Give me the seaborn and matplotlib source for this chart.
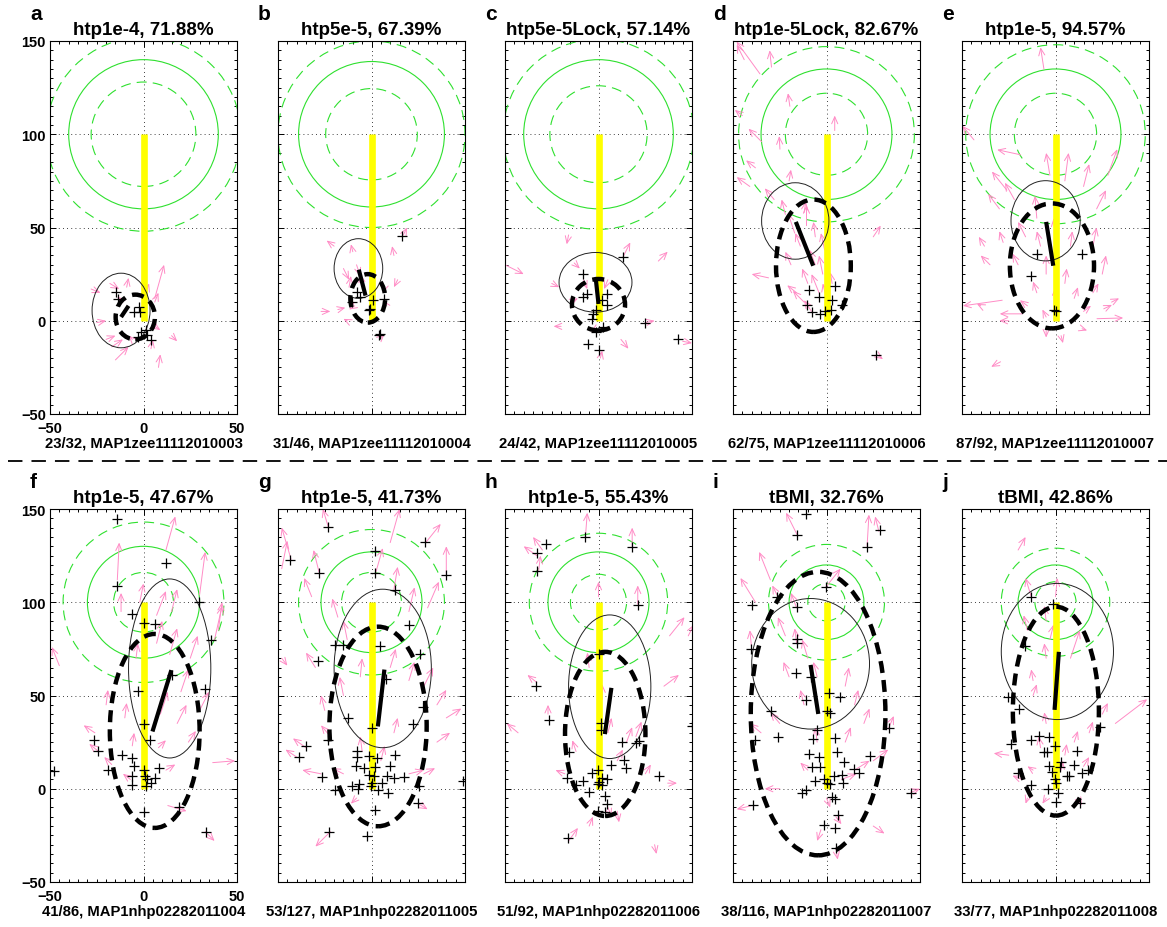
import numpy as np
import matplotlib
matplotlib.use("Agg")
import matplotlib.pyplot as plt
from matplotlib.patches import Circle, Ellipse, FancyArrowPatch
from matplotlib.lines import Line2D
import seaborn as sns

sns.set_theme(style="white")
plt.rcParams["font.family"] = ["Liberation Sans", "DejaVu Sans"]

# panel info
letters = ["a", "b", "c", "d", "e", "f", "g", "h", "i", "j"]
conds = ["htp1e-4", "htp5e-5", "htp5e-5Lock", "htp1e-5Lock", "htp1e-5",
         "htp1e-5", "htp1e-5", "htp1e-5", "tBMI", "tBMI"]
percents = [71.88, 67.39, 57.14, 82.67, 94.57, 47.67, 41.73, 55.43, 32.76, 42.86]
hits = [23, 31, 24, 62, 87, 41, 53, 51, 38, 33]
totals = [32, 46, 42, 75, 92, 86, 127, 92, 116, 77]
sessions = ["MAP1zee11112010003", "MAP1zee11112010004", "MAP1zee11112010005",
            "MAP1zee11112010006", "MAP1zee11112010007", "MAP1nhp02282011004",
            "MAP1nhp02282011005", "MAP1nhp02282011006", "MAP1nhp02282011007",
            "MAP1nhp02282011008"]

# target circles around (0,100)
r_solid = [40, 39, 40, 35, 35, 30, 27, 27, 20, 20]
r_inner = [28, 24.5, 26, 22, 22, 16, 16, 15, 10, 11]
r_outer = [52, 50, 51, 47, 48, 43, 39, 37, 31, 29]

# thin ellipse: center x, center y, width, height
thin_cx = [-12, -7, -1.6, -16.7, -5.3, 14, 6, 6, -8.5, 1]
thin_cy = [5.5, 28, 20.6, 53.5, 53.6, 64.5, 64.5, 54.7, 67, 73.6]
thin_w = [31, 26, 39, 36, 37, 44, 52, 44, 63, 60]
thin_h = [40, 32, 32, 41, 43, 96, 85, 77, 70, 73]

# thick dashed ellipse
dash_cx = [-4.4, -2, 0, -7, -1.9, 6, 3.5, 3.6, -4.5, 0.2]
dash_cy = [2, 12, 8.6, 29.5, 29.4, 31, 33.4, 29.4, 40.3, 41.6]
dash_w = [21, 18.6, 28.4, 40, 45, 48, 52, 43, 72, 46]
dash_h = [24, 26, 27.6, 71, 67, 104, 107, 88, 152, 112]

# mean trajectory line
line_x0 = [-12, -6.8, -1.4, -16.4, -5, 4.8, 3.4, 6.9, -8.5, -0.5]
line_y0 = [2, 27.4, 22, 53, 53, 30.7, 33.4, 54.1, 66.4, 42.3]
line_x1 = [-8, -3.2, 0, -7.1, -1.2, 14.9, 6.9, 3.4, -4.4, 1.8]
line_y1 = [8, 13.5, 9, 29.5, 29.5, 63.6, 63.9, 29.3, 40.1, 73.4]

# end points (+)
a_x = [-14.8, -13.9, -5, -2.3, -1.8, -1.4, 1.6, 3.9, -3.2, 2.1]
a_y = [15.3, 11.7, 4.6, 7.3, 4.6, -6, -5.2, -10.5, -8.7, -7.8]
b_x = [16.4, 4.8, 3.9, 0.9, -0.9, -6.2, -10.3, 6.9, -1.4, -7.7]
b_y = [45.3, -7, -7.5, 10.9, 6.4, 12.7, 10, 11.8, 5.5, 15.3]
c_x = [-8.2, 13.2, -6.4, -8.2, 4.3, 2.1, 4.3, -1.1, -2.8, -3.7, -1.1, 2.5, 24.7, 42.5, -5.5, 0.4]
c_y = [25, 34, 14.4, 12.6, 14.4, 10.9, 8.2, 5.5, 3.7, 1.1, -6, -3.4, -1.1, -9.6, -12.3, -15.8]
d_x = [4.8, -9.3, -3.9, 3.2, -10.3, -8, -3.6, -0.9, 2.3, 8.5, 26.7]
d_y = [18.9, 16.7, 13, 11.2, 8.5, 4.6, 3.7, 5, 5.5, 8.2, -18.1]
e_x = [-9.8, 14.2, -13.3, -0.9, 0.5]
e_y = [35.8, 35.8, 24.2, 5.5, 5]
f_x = [-48, -14.2, -14.2, 11.9, 29.7, -5.9, 0, 6, 36.2, 15.5, 32.7, -3.2, 0, 3.6, -26.6, -24.5,
       -11.7, -6.4, -5, -19.2, -5.9, -5.9, 0, 0.7, 2.1, 3.9, 6, 8.3, 1.2, 0, 19, 33.2]
f_y = [9.4, 144.4, 108.9, 121.3, 100, 93.8, 88.8, 88.1, 79.6, 61, 53.5, 52.6, 34.8, 26.3, 26.3, 20.1,
       18.3, 16.5, 12.1, 10.3, 6.7, 1.8, 10.3, 7.1, 5, 3.2, 5.9, 11.2, 1.4, -12.4, -9.6, -23.4]
g_x = [-23.1, -43.7, -28.1, 28.8, 2.1, 1.8, 39.8, 12.3, 19.9, -19.5, -15.1, 4.4, -28.6, 26.1, 8, 27.5,
       -12.4, 22.2, 0.4, -35.2, -38.7, -23.3, -8, -8, -1.4, 2.7, 12.3, -8.5, -4.1, 2.1, 10.1, -26.6,
       -1.4, 1.2, 8.4, 11.9, 17.2, 0, -0.5, -6.7, -10.3, -19.5, -7.3, 5.7, 8.7, 3.6, 25.2, 48.8,
       24.9, 2.1, -22.7, -2.3]
g_y = [140.3, 122.6, 115.6, 132.5, 127.5, 115.6, 114.4, 106.6, 87.6, 77.3, 77.3, 76.4, 68.6, 72.1, 58.6, 43.7,
       38.2, 34.8, 32.5, 22.7, 17, 25.9, 20.4, 16.9, 17.4, 16.5, 17.9, 12.1, 11.2, 11.5, 12.1, 6.4,
       7.6, 6.7, 6.7, 5.9, 6.2, 3.2, 1.4, 2.7, 1.4, -0.9, -0.4, 3.2, -2.1, -0.9, 1.4, 4.4,
       -7.5, -11.4, -23.4, -25.2]
h_x = [-7.3, -28.1, -33, -33, 18.1, 21.1, 0.4, -33.6, -26.3, 50, 1.6, 1.1, 12.3, 20.2, 21.7, -15.6,
       6.9, 13.5, 14.9, -0.5, -3.7, 2.1, 4.6, 0.4, 2.1, -0.2, -8.5, -12, -17.1, -5, 3.4, 4.8,
       -0.5, 3.4, 32.3, -16.5]
h_y = [135, 131.1, 126.3, 116.9, 129.7, 98.6, 72.5, 55.2, 36.9, 33.7, 35.2, 31.6, 24.9, 24.5, 25.4, 19.5,
       13, 15.3, 11.2, 9.9, 8.2, 5.9, 5, 3.6, 1.8, 2.3, 4.1, 1.8, 5.9, -1.8, -3.9, -8.3,
       -11.9, -12.4, 6.7, -26.6]
i_x = [-11, -15.6, 28.4, 21.7, -0.5, -26.6, -40, -15.6, -40.5, -16, -15.6, -16.5, -8.5, 1.2, 7.1, -10.7,
       -29.5, 0, 1.8, 33.2, -38.4, -25.8, -5, -7.1, 4.8, 5.7, -9.4, -4.1, 9.6, 23.4, -7.6, -3.6,
       14.6, 17.2, 8.3, 3.9, -1.4, 0, 2.1, -5.9, 8.9, -10.7, -13, 2.7, 4.8, 6, -1.1, 4.8,
       5.3, -39.3, 45.3]
i_y = [147.4, 135.9, 138.5, 129.7, 108.3, 102.6, 98.6, 97.5, 75.1, 80.5, 78.2, 61.8, 60, 51.5, 49, 47.6,
       41.7, 41.7, 40.7, 32.7, 26.3, 27.5, 31.6, 26.6, 27.2, 19.5, 18.7, 16.9, 14.2, 17.8, 11.5, 11.5,
       10.7, 8.2, 7.6, 7.1, 5.3, 3.2, 2.3, 4.4, 3.2, -0.9, -2.1, -4.4, -5.7, -14.2, -19.5, -20.8,
       -32, -8.9, -2.1]
j_x = [-13.3, -1.2, -16.3, -25.2, -19.5, 23.6, -24, -13.3, -8.9, -3.6, -0.5, -6.2, -4.4, 11.5, -3.6, 2.7,
       2.3, 9.8, -20.1, -1.8, 6.2, 7.1, 14.2, 17.4, -0.5, 0.5, -13, -4.1, 1.4, 0, 13.3]
j_y = [102.7, 99.1, 76.4, 49, 42.6, 33, 24, 26.3, 28.4, 27.7, 22.7, 19.5, 19.5, 20.4, 12.4, 14.6,
       11.5, 12.8, 8.5, 8.9, 7.1, 6.7, 8.2, 9.9, 5.3, 3.2, 1.8, -0.4, -2.5, -7.1, -7.5]

# movement arrows: (x, y, dx, dy)
a_arrows = [(-15, -21, 7, 7), (-17, -14, 6, 4), (8, -25, 1, 7), (6, 12, 5, 18), (15, -8, 3, -3),
            (-28, 17, 5, -2), (-25, -1, 5, 1), (-20, -10, 5, 2), (-18, 20, 5, -3), (-9, 18, 1, 5),
            (2, 17, 1, 3), (4, -15, 1, 5), (6, 10, 2, 5), (-11, 10, -3, 3), (6, -3, 3, -2), (-6, -10, -2, 2)]
b_arrows = [(-20, 40, -4, 3), (-10, 37, -1, 4), (12, 35, -1, 5), (17, 46, 2, 4), (14, 22, -2, -4),
            (-27, 5, 5, 0), (-18, 6, 4, 1), (5, -9, 2, 2), (-12, 18, 1, 6), (-13, 0, -2, 1),
            (-15, 28, 3, -6), (-8, 30, 2, -6), (8, 8, -2, 3), (-9, 8, -3, -2), (-5, 20, -1, 5), (7, 18, -1, -3)]
c_arrows = [(-50, 30, 10, -5), (-16, 46, -1, -5), (13, 34, 4, 8), (32, 32, 5, 5), (12, -10, 4, -5),
            (25, -1, 5, 1), (45, -11, 5, -1), (-25, 20, 4, -2), (-20, -3, -4, 0), (1, -20, 1, 4),
            (-13, 31, 3, -3), (-8, 22, 2, -5), (-15, 10, 4, 2), (5, 22, -2, -5), (-1, -4, -3, -2)]
d_arrows = [(-35.6, 132.4, -12.5, 17.3), (-29.4, 136, -1, 9), (-19.6, 115, -1, 7), (4.4, 102, 0, 8),
            (-34.7, 96, -7, 7), (-24.9, 92, -0.4, 7), (-41, 72, -7, 5), (-10.7, 51, 0, 11), (25, 45, 4, 6),
            (-31, 23, -9, 2), (26.7, -18.1, 3.5, -2.5), (-17, 47, -3.6, 10.7), (-14, 40, -2.7, 7),
            (-6, 30, -3, 8), (-2, 25, -2, 10), (-10, 20, -3, 8), (-4, 15, -4, 10), (0, 12, -2, 8),
            (-12, 10, -6, 6), (-16, 15, -5, 4), (-8, 5, -4, 6), (3, 20, -1, 6), (-19, 30, -3, 7),
            (-1, 38, -2, 9), (-6, 45, -1, 8), (-22, 57, -2, 8), (-28, 65, -5, 6), (-38, 82, -5, 4),
            (-12, 58, 1, 6), (-45, 110, -4, 3), (-20, 75, 1, 6), (-44, 140, -4, 8)]
e_arrows = [(-6.2, 135, -1.8, 11.6), (-43.6, 97, -6.2, 7.5), (-18.7, 89, -12.5, 2.7), (-26, 70, -8, 10),
            (-30, 60, -6, 8), (-22, 65, -5, 9), (-28.5, 11, -21, -3), (-17.8, 3.7, -12, 0),
            (22.2, 1.1, 14, 0.4), (25.8, 6.4, 4.4, 2.1), (-29.4, -22, -5, -2.7), (14.2, -4.3, 2.7, -0.9),
            (-3, 78, -2, 12), (5, 75, 2, 15), (15, 72, 3, 12), (28, 78, 5, 14), (22, 60, 5, 10),
            (-10, 55, -1, 12), (0, 45, -1, 10), (8, 40, 1, 8), (-8, 40, -2, 8), (-16, 45, -4, 8),
            (20, 40, 2, 10), (25, 25, 2, 10), (-20, 30, -3, 6), (-5, 25, 0, 10), (5, 20, 1, 8),
            (-10, 15, -2, 6), (10, 12, 2, 6), (0, 10, 0, 8), (-15, 8, -4, 3), (15, 5, 4, 3),
            (-5, 2, -2, 4), (20, 15, 3, 5), (-35, 30, -5, 5), (-40, 8, -2, 1), (-25, 0, -5, 0),
            (30, 10, 4, 2), (-38, 40, -3, 5), (-28, 42, -2, 6), (-5, -5, 0, -4), (3, -8, 1, -4)]
f_arrows = [(-45, 66, -4, 10), (-14, 112, 1, 20), (-12, 95, 0, 10), (30, 104, 3, 23), (38, 80, 4, 18),
            (7, 93, 5, 13), (15, 95, 3, 12), (12, 128, 5, 18), (-2, 100, 2, 10), (7, 78, 3, 12),
            (14, 72, 4, 14), (25, 70, 4, 12), (20, 52, 4, 12), (9, 40, 4, 12), (18, 35, 5, 10),
            (30, 42, 5, 10), (-20, 45, 1, 8), (-10, 38, 1, 8), (-4, 70, 1, 8), (-26, 30, -6, 4),
            (-24, 20, -5, 4), (-17, 13, -4, 4), (37, 14, 12, 1), (13, -9, 10, -3), (33, -23, 5, -5),
            (-7, 5, -4, 3), (8, 22, 4, 4), (24, 25, 4, 6), (-6, 23, 1, 7), (12, 10, 5, 3), (40, 85, 2, 15)]
g_arrows = [(-43, 123, -5, 17), (10, 132, 5, 18), (29, 132, 8, 10), (40, 114, 0, 16), (-28, 116, -3, 12),
            (-32, 103, -4, 10), (-48, 118, 3, 15), (2, 115, 4, 14), (12, 107, 2, 12), (20, 95, 3, 13),
            (30, 97, 6, 14), (-18, 92, -3, 10), (-13, 80, -2, 10), (-30, 65, -5, 8), (-48, 70, 3, -4),
            (-6, 60, 1, 10), (-15, 50, -2, 10), (10, 65, 3, 10), (20, 58, 3, 10), (28, 55, 5, 10),
            (35, 45, 5, 8), (40, 38, 8, 5), (35, 25, 7, 5), (-35, 22, -7, 5), (-40, 17, -6, 4),
            (-22, 28, -5, 6), (-27, 8, -10, 2), (-15, 8, -6, 3), (20, 8, 8, 2), (28, 8, 6, 3),
            (25, -8, 5, -3), (-22, -23, -8, -8), (-8, -5, -3, -3), (5, 15, 2, 8), (-5, 20, -1, 8),
            (12, 30, 2, 8), (-25, 42, -2, 8), (-23, 140, -3, 10)]
h_arrows = [(-7, 135, 1, 13), (-30, 128, -5, 7), (-33, 125, -7, 5), (-32, 117, 1, 8), (18, 130, 0, 10),
            (21, 99, 0, 10), (0, 103, 0, 8), (38, 82, 8, 10), (48, 82, 3, 6), (35, 55, 8, 6),
            (-33, 57, -5, 4), (-43, 30, -6, 5), (-27, 40, 0, 5), (-5, 65, -1, 8), (2, 48, 0, 8),
            (5, 30, 2, 8), (15, 25, 3, 8), (20, 28, 3, 8), (-12, 20, -2, 6), (-18, 8, -5, 2),
            (10, 15, 3, 6), (25, 8, 3, 5), (37, 3, 5, 0), (-16, -28, 5, 7), (-5, -20, 2, 5),
            (5, -10, 2, -5), (30, -30, 1, -5), (10, -12, 1, -6)]
i_arrows = [(-15.6, 136, -6, 12), (21.7, 130, 1, 17), (28, 138, -2, 8), (-30, 112, -6, 15),
            (-38, 100, -8, 13), (-0.5, 108, 8, 10), (-26, 103, -3, 6), (-16, 97, -3, 8), (-22, 82, -4, 10),
            (-40, 75, -1, 10), (-16, 78, -1, 8), (-10, 70, -3, 10), (-5, 60, -2, 8), (10, 55, 2, 10),
            (15, 45, 2, 8), (-20, 60, -3, 8), (-12, 45, -2, 8), (-25, 35, -5, 6), (20, 35, 3, 8),
            (33, 32, 3, 7), (10, 25, 3, 8), (-5, 25, -1, 8), (-35, 30, -6, 5), (25, 15, 8, 6),
            (15, 10, 8, 5), (-10, 10, -4, 4), (-25, 0, -8, 0), (-40, -9, -8, -2), (0, -5, 2, -5),
            (5, -15, 3, -4), (25, -20, 6, -4), (5, -32, 1, -6), (-3, -22, -2, -6), (45, -2, 5, 2),
            (8, 5, 8, 3)]
j_arrows = [(-20, 128, 4, 7), (-13, 103, -3, 10), (0, 103, 1, 10), (-5, 90, -1, 8), (-15, 85, -2, 8),
            (-3, 80, 2, 8), (8, 70, 5, 15), (-5, 70, -1, 8), (-12, 58, -1, 6), (-12, 50, 2, 6),
            (-5, 35, -1, 6), (32, 35, 17, 13), (25, 40, 3, 6), (18, 30, 2, 6), (-25, 18, -8, 1),
            (-12, 10, -3, 2), (-18, 5, -5, 2), (5, 18, 1, 6), (10, 25, 2, 6), (-8, 22, -1, 6),
            (15, 12, 3, 5), (-5, -5, -2, -3), (12, -5, 2, -4), (-15, -5, -1, -3), (3, 10, 1, 5)]

pts_x = [a_x, b_x, c_x, d_x, e_x, f_x, g_x, h_x, i_x, j_x]
pts_y = [a_y, b_y, c_y, d_y, e_y, f_y, g_y, h_y, i_y, j_y]
arrows = [a_arrows, b_arrows, c_arrows, d_arrows, e_arrows,
          f_arrows, g_arrows, h_arrows, i_arrows, j_arrows]

green = "#2ee02e"
pink = "#ff8cc6"

W, H = 1167, 928
fig = plt.figure(figsize=(W / 100, H / 100), dpi=100)
col_left = [50, 278, 505, 733, 962]
row_bottom = [415, 883]
ax_w, ax_h = 187, 373

for k in range(10):
    r, c = divmod(k, 5)
    ax = fig.add_axes([col_left[c] / W, (H - row_bottom[r]) / H, ax_w / W, ax_h / H])
    ax.set_xlim(-50, 50)
    ax.set_ylim(-50, 150)

    # target circles
    ax.add_patch(Circle((0, 100), r_outer[k], fill=False, ec=green, lw=0.8, ls=(0, (9, 5.5)), zorder=1))
    ax.add_patch(Circle((0, 100), r_solid[k], fill=False, ec=green, lw=0.8, zorder=1))
    ax.add_patch(Circle((0, 100), r_inner[k], fill=False, ec=green, lw=0.8, ls=(0, (9, 5.5)), zorder=1))

    # movement arrows
    for (x, y, u, v) in arrows[k]:
        ax.add_patch(FancyArrowPatch((x, y), (x + u, y + v),
                                     arrowstyle="->,head_length=0.5,head_width=0.22",
                                     mutation_scale=10, color=pink, lw=0.7,
                                     shrinkA=0, shrinkB=0, zorder=2))

    # straight path to target
    ax.plot([0, 0], [0, 100], color="#ffff00", lw=4.8, solid_capstyle="butt", zorder=3)

    ax.add_patch(Ellipse((thin_cx[k], thin_cy[k]), thin_w[k], thin_h[k],
                         fill=False, ec="#222222", lw=0.7, zorder=4))
    ax.add_patch(Ellipse((dash_cx[k], dash_cy[k]), dash_w[k], dash_h[k],
                         fill=False, ec="black", lw=3.2, ls=(0, (2.7, 1.6)), zorder=5))
    ax.plot([line_x0[k], line_x1[k]], [line_y0[k], line_y1[k]], color="black",
            lw=3, solid_capstyle="butt", zorder=5)

    sns.scatterplot(x=pts_x[k], y=pts_y[k], marker="+", s=60, color="black",
                    linewidth=0.9, ax=ax, zorder=6, legend=False)

    ax.set_xticks([-50, 0, 50])
    ax.set_yticks([-50, 0, 50, 100, 150])
    ax.set_xticks(np.arange(-50, 51, 5), minor=True)
    ax.set_yticks(np.arange(-50, 151, 5), minor=True)
    ax.tick_params(which="both", direction="in", top=True, right=True, bottom=True, left=True,
                   width=0.7, colors="black", labelsize=10.5)
    ax.tick_params(which="major", length=4)
    ax.tick_params(which="minor", length=2)
    ax.tick_params(axis="x", pad=5)
    ax.tick_params(axis="y", pad=3)
    ax.grid(True, which="major", color="black", lw=0.6, linestyle=(0, (1, 4)))
    ax.set_axisbelow(True)
    for sp in ax.spines.values():
        sp.set_color("black")
        sp.set_linewidth(0.8)
    if c == 0:
        for t in ax.get_xticklabels() + ax.get_yticklabels():
            t.set_fontweight("bold")
    else:
        ax.tick_params(labelbottom=False, labelleft=False)

    ax.set_title(f"{conds[k]}, {percents[k]:.2f}%", fontsize=13.5, fontweight="bold",
                 pad=5, color="black")
    ax.text(-20 / ax_w, 1 + 22 / ax_h, letters[k], transform=ax.transAxes,
            fontsize=15, fontweight="bold", ha="left", va="baseline", color="black")
    ax.text(0.5, -0.088, f"{hits[k]}/{totals[k]}, {sessions[k]}", transform=ax.transAxes,
            fontsize=10.7, fontweight="bold", ha="center", va="baseline", color="black")

fig.add_artist(Line2D([0.007, 1.0], [1 - 462 / H, 1 - 462 / H], transform=fig.transFigure,
                      color="black", lw=1.3, linestyle=(0, (8, 5))))

fig.savefig("out.png", dpi=100)
